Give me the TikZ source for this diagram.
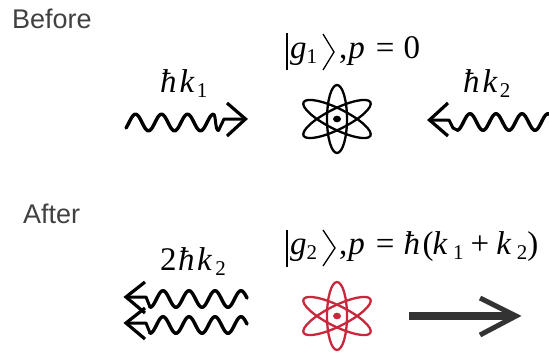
\documentclass[tikz,border=0pt]{standalone}
\usepackage{fontspec}
\setmainfont{Liberation Serif}
\newfontfamily\labelfont{Liberation Sans}
\definecolor{lab}{HTML}{404040}
\definecolor{atomred}{HTML}{C8283C}
\definecolor{heavy}{HTML}{333333}
\newcommand{\sbs}[1]{\raisebox{-5pt}{\fontsize{21}{21}\selectfont #1}}
\newcommand{\hb}{\textit{ħ}}
\newcommand{\gp}[1]{\hspace{#1pt}}
% from, to, centre, amplitude, phase origin
\newcommand{\wavepath}[5]{\draw[wavy] plot[domain=#1:#2,samples=90,smooth] (\x,{#3-#4*sin(13.846*(\x-#5))});}
\tikzset{
  wavy/.style={line width=3.4pt,line join=round,line cap=round,variable=\x},
  barb/.style={line width=3.2pt,line cap=butt,line join=miter},
  shaft/.style={line width=3pt,line join=round},
  lbl/.style={font=\labelfont\fontsize{27}{30}\selectfont,text=lab,anchor=base west,inner sep=0pt},
  eq/.style={font=\fontsize{33}{35}\selectfont,anchor=base west,inner sep=0pt},
  orbit/.style={line width=2.3pt,draw=#1},
  keybar/.style={line width=2.4pt},
  keyang/.style={line width=1.3pt}
}
\newcommand{\atom}[3]{%
  \begin{scope}[shift={(#1,#2)}]
    \draw[orbit=#3] (0,0) ellipse [x radius=10,y radius=34];
    \draw[orbit=#3,xscale=1.13,rotate=60] (0,0) ellipse [x radius=10,y radius=34];
    \draw[orbit=#3,xscale=1.13,rotate=-60] (0,0) ellipse [x radius=10,y radius=34];
    \fill[#3] (0,0) ellipse [x radius=4,y radius=3.3];
  \end{scope}}
\begin{document}
\begin{tikzpicture}[x=1pt,y=-1pt]
\useasboundingbox (0,0) rectangle (549,354);
\node[lbl] (before) at (12,28) {Before};
\node[lbl] (after) at (23,223) {After};
% before: left photon
\node[eq] (k1) at (160,92) {\hb\gp{3}\textit{k}\gp{2}\sbs{1}};
\wavepath{126}{213.5}{122.5}{8.3}{129}
\draw[shaft] (213.5,114.2) .. controls (216,114.2) and (215,131) .. (218.5,130.5) -- (224,119) -- (245,119);
\draw[barb] (227,103) -- (245.5,119) -- (227,136);
% before: atom
\draw[keybar] (287,33) -- (287,70);
\draw[keyang] (323,34) -- (334,52) -- (323,70);
\node[eq] (g1) at (290,58) {\textit{g}\sbs{1}};
\node[eq] (p1) at (339,58) {,\gp{1}\textit{p}\gp{11}=\gp{9}0};
\atom{337}{119}{black}
% before: right photon
\node[eq] (k2) at (463,92) {\hb\gp{3}\textit{k}\gp{2}\sbs{2}};
\begin{scope}
\clip (0,0) rectangle (549,354);
\wavepath{457}{555}{122}{8.3}{463.5}
\end{scope}
\draw[barb] (448,103) -- (429.5,120) -- (448,136);
\draw[shaft] (429,120) -- (449,120) -- (453,128) -- (457,130);
% after: photons
\node[eq] (k3) at (160,270) {2\gp{1.5}\hb\gp{2.5}\textit{k}\gp{3}\sbs{2}};
\wavepath{150}{247}{299}{8.3}{156.5}
\draw[barb] (145,282) -- (126,297) -- (145,313);
\draw[shaft] (126,297) -- (146,297) -- (150,307);
\wavepath{150}{247}{325}{8.3}{156.5}
\draw[barb] (145,308) -- (126,323) -- (145,339);
\draw[shaft] (126,323) -- (146,323) -- (150,333);
% after: atom
\draw[keybar] (287,230) -- (287,267);
\draw[keyang] (323,230) -- (335,248) -- (323,266);
\node[eq] (g2) at (290,254) {\textit{g}\sbs{2}};
\node[eq] (p2) at (339,254) {,\gp{1}\textit{p}\gp{11}=\gp{9}\hb\gp{2.5}(\gp{-1}\textit{k}\gp{5.5}\sbs{1}\gp{7}+\gp{7}\textit{k}\gp{5.5}\sbs{2}\gp{0})};
\atom{337}{316}{atomred}
% after: recoil arrow
\draw[heavy,line width=8.2pt] (409,316) -- (512,316);
\draw[heavy,line width=5pt,line join=miter] (480,298) -- (516,316) -- (480,335);
\end{tikzpicture}
\end{document}
